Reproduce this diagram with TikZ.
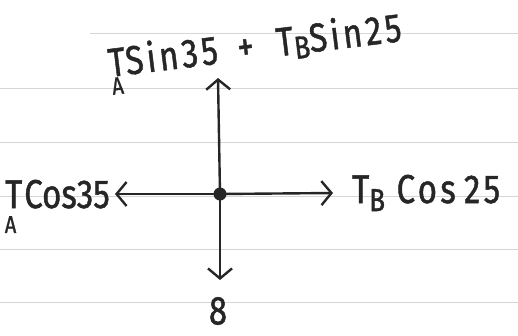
\documentclass[tikz,border=0pt]{standalone}
\usepackage{fontspec}
\usepackage{graphicx}
\setmainfont{Fira Sans}[FakeBold=1.3]
\newfontfamily\hwwide{Fira Sans}[LetterSpace=10,FakeBold=1.3]
\usetikzlibrary{arrows.meta}
\newcommand{\hw}[1]{\scalebox{1}[1.22]{#1}}
\begin{document}
\begin{tikzpicture}[x=1pt,y=-1pt,
  rule/.style={draw=black!16, line width=0.9pt},
  force/.style={draw=black!85, line width=2.4pt, line cap=round,
    -{Straight Barb[length=10pt,width=24pt,line width=2.4pt]}},
  lbl/.style={text=black!85, font=\fontsize{33}{36}\selectfont, inner sep=0pt},
  dot/.style={circle, fill=black!85, minimum size=13pt, inner sep=0pt}]
\useasboundingbox (0,0) rectangle (518,335);
\draw[rule] (90,33) -- (518,33);
\foreach \y in {88,142,196,249,302} \draw[rule] (0,\y) -- (518,\y);
\node[dot] (c) at (220,194) {};
\coordinate (up) at (218,78);
\coordinate (dn) at (220,280);
\coordinate (lf) at (115,194);
\coordinate (rt) at (333,193);
\draw[force] (c.center) -- (up);
\draw[force] (c.center) -- (dn);
\draw[force] (c.center) -- (lf);
\draw[force] (c.center) -- (rt);
\node[lbl, anchor=base west, rotate=7] (top) at (110,77)
  {\hw{\hwwide T\llap{\raisebox{-0.45em}{\fontsize{20}{20}\selectfont A}\kern5pt}Sin35\hspace{0.6em}+\hspace{0.7em}T\raisebox{-0.12em}{\fontsize{26}{26}\selectfont B}Sin25}};
\node[lbl, anchor=base east] (left) at (110,208)
  {\hw{T\llap{\raisebox{-0.62em}{\fontsize{20}{20}\selectfont A}\kern6pt}\kern2pt Cos35}};
\node[lbl, anchor=base west] (right) at (352,203)
  {\hw{\hwwide T\raisebox{-0.2em}{\fontsize{26}{26}\selectfont B}\hspace{0.35em}Cos\hspace{0.25em}25}};
\node[lbl] (w) at (218,311) {\hw{8}};
\end{tikzpicture}
\end{document}
